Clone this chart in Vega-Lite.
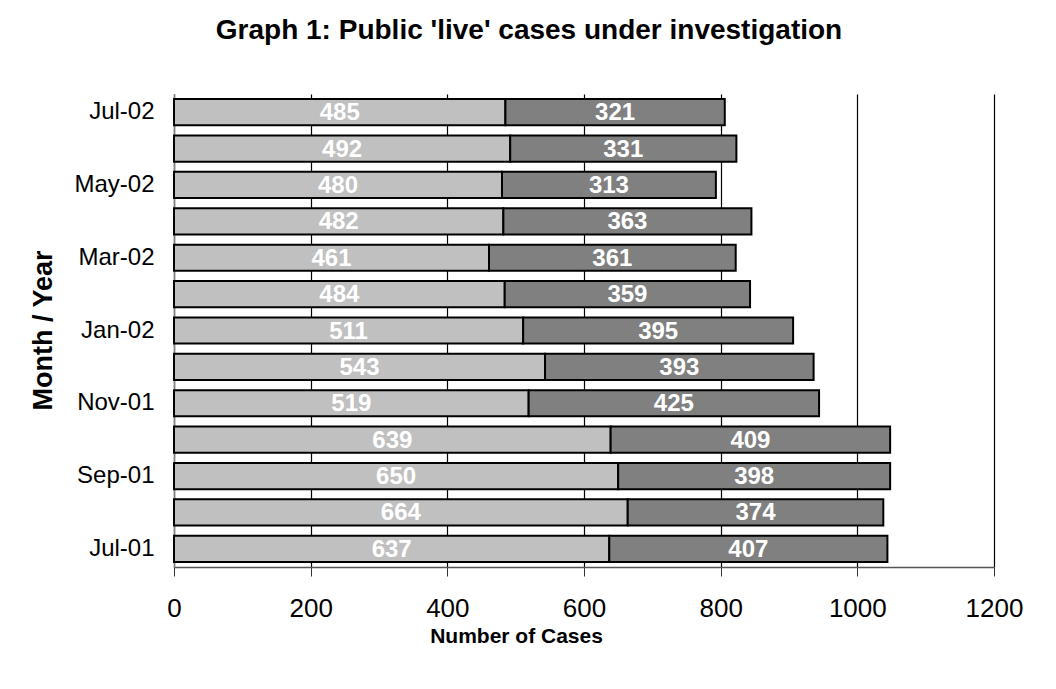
{
  "$schema": "https://vega.github.io/schema/vega-lite/v6.json",
  "autosize": "none",
  "width": 820,
  "height": 473,
  "padding": {"left": 174, "top": 94, "right": 62, "bottom": 122},
  "background": "white",
  "title": {
    "text": "Graph 1: Public 'live' cases under investigation",
    "font": "Liberation Sans",
    "fontSize": 28,
    "fontWeight": "bold",
    "color": "black",
    "anchor": "middle",
    "dx": -55,
    "offset": 49
  },
  "data": {
    "values": [
      {"month": "Jul-01", "group": "Category 1", "order": 1, "value": 637},
      {"month": "Jul-01", "group": "Category 2", "order": 2, "value": 407},
      {"month": "Aug-01", "group": "Category 1", "order": 1, "value": 664},
      {"month": "Aug-01", "group": "Category 2", "order": 2, "value": 374},
      {"month": "Sep-01", "group": "Category 1", "order": 1, "value": 650},
      {"month": "Sep-01", "group": "Category 2", "order": 2, "value": 398},
      {"month": "Oct-01", "group": "Category 1", "order": 1, "value": 639},
      {"month": "Oct-01", "group": "Category 2", "order": 2, "value": 409},
      {"month": "Nov-01", "group": "Category 1", "order": 1, "value": 519},
      {"month": "Nov-01", "group": "Category 2", "order": 2, "value": 425},
      {"month": "Dec-01", "group": "Category 1", "order": 1, "value": 543},
      {"month": "Dec-01", "group": "Category 2", "order": 2, "value": 393},
      {"month": "Jan-02", "group": "Category 1", "order": 1, "value": 511},
      {"month": "Jan-02", "group": "Category 2", "order": 2, "value": 395},
      {"month": "Feb-02", "group": "Category 1", "order": 1, "value": 484},
      {"month": "Feb-02", "group": "Category 2", "order": 2, "value": 359},
      {"month": "Mar-02", "group": "Category 1", "order": 1, "value": 461},
      {"month": "Mar-02", "group": "Category 2", "order": 2, "value": 361},
      {"month": "Apr-02", "group": "Category 1", "order": 1, "value": 482},
      {"month": "Apr-02", "group": "Category 2", "order": 2, "value": 363},
      {"month": "May-02", "group": "Category 1", "order": 1, "value": 480},
      {"month": "May-02", "group": "Category 2", "order": 2, "value": 313},
      {"month": "Jun-02", "group": "Category 1", "order": 1, "value": 492},
      {"month": "Jun-02", "group": "Category 2", "order": 2, "value": 331},
      {"month": "Jul-02", "group": "Category 1", "order": 1, "value": 485},
      {"month": "Jul-02", "group": "Category 2", "order": 2, "value": 321}
    ]
  },
  "transform": [
    {"stack": "value", "groupby": ["month"], "sort": [{"field": "order", "order": "ascending"}], "as": ["x0", "x1"]},
    {"calculate": "(datum.x0 + datum.x1) / 2", "as": "xmid"}
  ],
  "encoding": {
    "y": {
      "field": "month",
      "type": "nominal",
      "sort": ["Jul-02", "Jun-02", "May-02", "Apr-02", "Mar-02", "Feb-02", "Jan-02", "Dec-01", "Nov-01", "Oct-01", "Sep-01", "Aug-01", "Jul-01"],
      "scale": {"paddingInner": 0.28, "paddingOuter": 0.14},
      "axis": {
        "title": "Month / Year",
        "titleFont": "Liberation Sans",
        "titleFontSize": 27,
        "titleFontWeight": "bold",
        "titleColor": "black",
        "titleAngle": -90,
        "titleX": -131,
        "titleY": 236,
        "titleAlign": "center",
        "titleBaseline": "middle",
        "values": ["Jul-02", "May-02", "Mar-02", "Jan-02", "Nov-01", "Sep-01", "Jul-01"],
        "labelFont": "Liberation Sans",
        "labelFontSize": 24,
        "labelColor": "black",
        "labelPadding": 20,
        "ticks": false,
        "domainColor": "#808080",
        "domainWidth": 1.5,
        "grid": false
      }
    }
  },
  "layer": [
    {
      "mark": {"type": "bar", "stroke": "black", "strokeWidth": 2},
      "encoding": {
        "x": {
          "field": "x0",
          "type": "quantitative",
          "scale": {"domain": [0, 1200], "nice": false},
          "axis": {
            "values": [0, 200, 400, 600, 800, 1000, 1200],
            "format": "d",
            "title": "Number of Cases",
            "titleFont": "Liberation Sans",
            "titleFontSize": 21,
            "titleFontWeight": "bold",
            "titleColor": "black",
            "titleX": 342,
            "titleY": 75,
            "titleAnchor": null,
            "titleAlign": "center",
            "titleBaseline": "alphabetic",
            "labelFont": "Liberation Sans",
            "labelFontSize": 26,
            "labelColor": "black",
            "labelPadding": 19,
            "tickSize": 9,
            "tickColor": "#333333",
            "domainColor": "#555555",
            "domainWidth": 1.5,
            "grid": true,
            "gridColor": "black",
            "gridWidth": 1.2,
            "labelFlush": false
          }
        },
        "x2": {"field": "x1"},
        "color": {
          "field": "group",
          "type": "nominal",
          "scale": {"domain": ["Category 1", "Category 2"], "range": ["#C0C0C0", "#808080"]},
          "legend": null
        }
      }
    },
    {
      "mark": {"type": "text", "font": "Liberation Sans", "fontSize": 24, "fontWeight": "bold", "color": "white", "align": "center", "baseline": "middle", "dy": 1},
      "encoding": {
        "x": {"field": "xmid", "type": "quantitative"},
        "text": {"field": "value", "type": "quantitative"}
      }
    }
  ],
  "config": {
    "view": {"stroke": null}
  }
}
